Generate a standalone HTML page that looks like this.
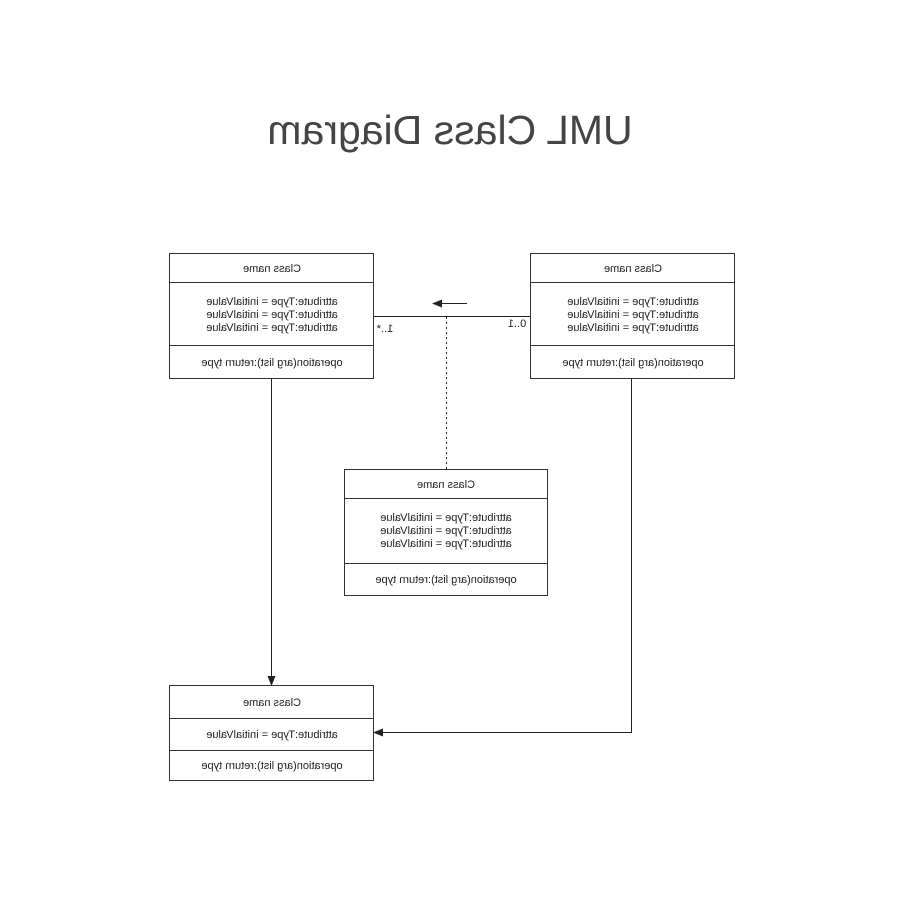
<!DOCTYPE html>
<html><head><meta charset="utf-8"><style>
html,body{margin:0;padding:0;background:#fff;}
#w{width:900px;height:900px;transform:scaleX(-1);}
text{font-family:"Liberation Sans",sans-serif;fill:#222;}
</style></head><body><div id="w">
<svg width="900" height="900" viewBox="0 0 900 900" xmlns="http://www.w3.org/2000/svg">
<defs><marker id="ah" markerWidth="10" markerHeight="8" refX="9" refY="4" orient="auto" markerUnits="userSpaceOnUse"><path d="M0,0 L10,4 L0,8 Z" fill="#222"/></marker></defs>
<text x="450" y="144" font-size="41" text-anchor="middle" style="fill:#444">UML Class Diagram</text>
<g stroke="#333" stroke-width="1" fill="#fff">
<rect x="526.5" y="253.5" width="204" height="125"/><line x1="526" y1="282.5" x2="731" y2="282.5"/><line x1="526" y1="345.5" x2="731" y2="345.5"/>
<rect x="165.5" y="253.5" width="204" height="125"/><line x1="165" y1="282.5" x2="370" y2="282.5"/><line x1="165" y1="345.5" x2="370" y2="345.5"/>
<rect x="352.5" y="469.5" width="203" height="126"/><line x1="352" y1="498.5" x2="556" y2="498.5"/><line x1="352" y1="563.5" x2="556" y2="563.5"/>
<rect x="526.5" y="685.5" width="204" height="95"/><line x1="526" y1="718.5" x2="731" y2="718.5"/><line x1="526" y1="750.5" x2="731" y2="750.5"/>
</g>
<g stroke="#222" stroke-width="1" fill="none">
<line x1="370" y1="316.5" x2="526" y2="316.5"/>
<line x1="433" y1="303.5" x2="467" y2="303.5" marker-end="url(#ah)"/>
<line x1="453.5" y1="317" x2="453.5" y2="469" stroke-dasharray="2,3"/>
<line x1="628.5" y1="379" x2="628.5" y2="685" marker-end="url(#ah)"/>
<polyline points="268.5,379 268.5,732.5 526,732.5" marker-end="url(#ah)"/>
</g>
<g font-size="11" text-anchor="middle">
<text x="628" y="272">Class name</text>
<text x="628" y="305">attribute:Type = initialValue</text><text x="628" y="318">attribute:Type = initialValue</text><text x="628" y="331">attribute:Type = initialValue</text>
<text x="628" y="366">operation(arg list):return type</text>
<text x="267" y="272">Class name</text>
<text x="267" y="305">attribute:Type = initialValue</text><text x="267" y="318">attribute:Type = initialValue</text><text x="267" y="331">attribute:Type = initialValue</text>
<text x="267" y="366">operation(arg list):return type</text>
<text x="454" y="488">Class name</text>
<text x="454" y="521">attribute:Type = initialValue</text><text x="454" y="534">attribute:Type = initialValue</text><text x="454" y="547">attribute:Type = initialValue</text>
<text x="454" y="583">operation(arg list):return type</text>
<text x="628" y="706">Class name</text>
<text x="628" y="738">attribute:Type = initialValue</text>
<text x="628" y="769">operation(arg list):return type</text>
<text x="515" y="332">1..*</text>
<text x="383" y="327">0..1</text>
</g>
</svg></div></body></html>
